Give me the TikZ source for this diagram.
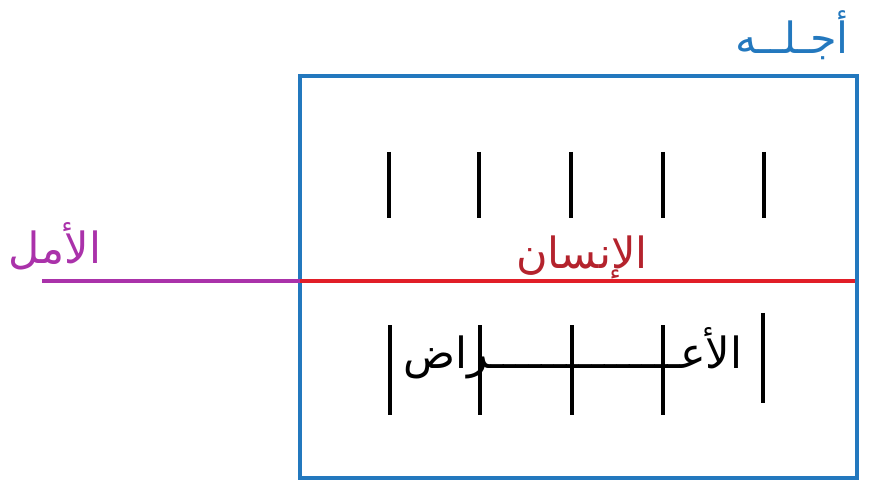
\documentclass[tikz,border=0pt]{standalone}
\usepackage{fontspec}
\newfontfamily\arabicfont[Script=Arabic]{DejaVu Sans}
\TeXXeTstate=1
\definecolor{boxblue}{RGB}{35,120,190}
\definecolor{hopepurple}{RGB}{170,50,170}
\definecolor{manred}{RGB}{225,30,40}
\definecolor{mantext}{RGB}{180,35,45}
\tikzset{
  bar/.style={line width=4pt, black},
  artext/.style={font=\fontsize{43}{48}\selectfont\arabicfont, inner sep=0pt, anchor=base}
}
\begin{document}
\begin{tikzpicture}[x=1pt, y=-1pt]
\useasboundingbox (0,0) rectangle (870,486);

% frame and its title
\draw[boxblue, line width=4pt] (300,76) rectangle (857,478);
\node[artext, boxblue] (ajal) at (792,54) {\beginR أجـلــه\endR};

% hope and man
\draw[hopepurple, line width=4pt] (42,281) -- (300,281);
\draw[manred, line width=4pt] (300,281) -- (855,281);
\node[artext, hopepurple] (amal) at (55,264) {\beginR الأمل\endR};
\node[artext, mantext] (insan) at (582,269) {\beginR الإنسان\endR};

% the ticks
\foreach \x in {389,479,571,663,764}
  \draw[bar] (\x,152) -- (\x,218);
\foreach \x in {390,480,572,663}
  \draw[bar] (\x,325) -- (\x,415);
\draw[bar] (763,313) -- (763,403);

\node[artext] (aarad) at (573,368) {\beginR الأعـــــــــــــــراض\endR};

\end{tikzpicture}
\end{document}
